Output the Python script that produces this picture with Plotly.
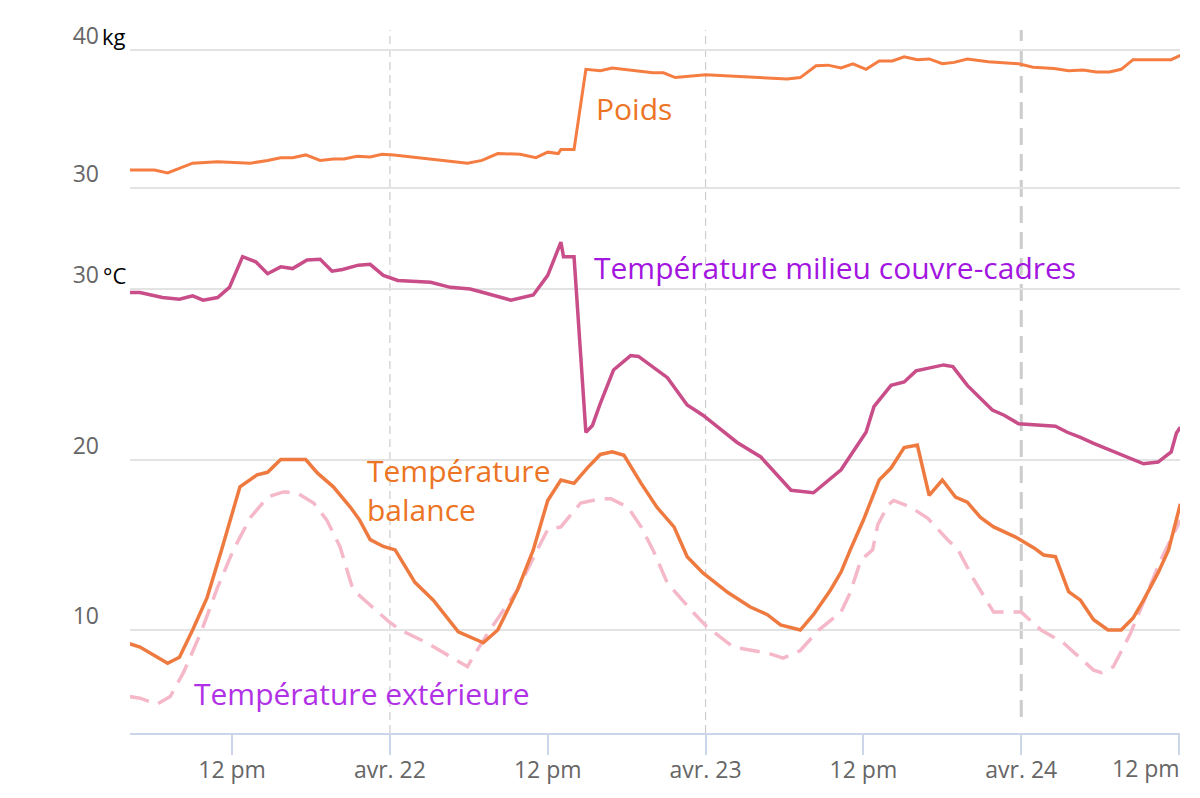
import pandas as pd
import plotly.graph_objects as go

# ---- data (hours since 2024-04-21 00:00) ----
START = pd.Timestamp("2024-04-21 00:00")

weight_h = [4.2, 6.1, 7.1, 9.0, 10.9, 13.4, 14.7, 15.7, 16.6, 17.6, 18.7, 19.7, 20.5, 21.5, 22.5, 23.4,
            24.3, 27.1, 29.9, 31.0, 32.2, 33.9, 35.1, 36.0, 36.8, 37.0, 38.0, 38.9, 40.0, 40.9, 42.5,
            44.0, 44.8, 45.7, 48.0, 50.1, 54.2, 55.2, 56.4, 57.3, 58.3, 59.2, 60.2, 61.2, 62.2, 63.1,
            64.1, 65.0, 66.0, 66.9, 67.9, 69.5, 70.7, 71.8, 72.9, 74.5, 75.6, 76.7, 77.7, 78.7, 79.6,
            80.5, 81.6, 83.4, 84.1]
weight_kg = [31.3, 31.3, 31.1, 31.8, 31.9, 31.8, 32.0, 32.2, 32.2, 32.4, 32.0, 32.1, 32.1, 32.3, 32.25, 32.45,
             32.4, 32.1, 31.8, 32.0, 32.5, 32.45, 32.2, 32.6, 32.5, 32.8, 32.8, 38.6, 38.5, 38.7, 38.5,
             38.35, 38.35, 38.0, 38.2, 38.1, 37.9, 38.0, 38.85, 38.9, 38.7, 39.0, 38.6, 39.2, 39.2, 39.5,
             39.3, 39.35, 39.0, 39.1, 39.35, 39.15, 39.05, 39.0, 38.75, 38.65, 38.5, 38.55, 38.4, 38.4, 38.6,
             39.3, 39.3, 39.3, 39.6]

hive_h = [4.2, 5.0, 6.7, 8.0, 9.0, 9.8, 10.9, 11.8, 12.8, 13.8, 14.7, 15.7, 16.6, 17.7, 18.7, 19.6,
          20.4, 21.6, 22.5, 23.5, 24.6, 27.1, 28.6, 30.1, 31.1, 33.2, 34.9, 36.0, 37.0, 37.2, 38.0,
          38.9, 39.4, 40.0, 41.0, 42.3, 42.9, 44.0, 45.1, 46.6, 47.8, 50.4, 52.2, 54.5, 55.2, 56.2,
          58.3, 60.2, 60.8, 62.1, 63.1, 64.0, 66.1, 66.8, 67.9, 69.8, 70.7, 71.8, 74.6, 75.5, 76.5,
          77.5, 81.3, 82.4, 83.4, 83.8, 84.1]
hive_c = [29.8, 29.8, 29.5, 29.4, 29.6, 29.35, 29.5, 30.1, 31.9, 31.6, 30.9, 31.3, 31.2, 31.7, 31.75, 31.05,
          31.15, 31.4, 31.45, 30.8, 30.5, 30.4, 30.1, 30.0, 29.8, 29.35, 29.65, 30.8, 32.75, 31.9, 31.9,
          21.6, 22.0, 23.3, 25.25, 26.1, 26.05, 25.45, 24.8, 23.2, 22.6, 21.0, 20.15, 18.2, 18.15, 18.05,
          19.4, 21.6, 23.1, 24.35, 24.55, 25.2, 25.55, 25.45, 24.35, 22.9, 22.6, 22.1, 21.95, 21.6, 21.3,
          20.95, 19.75, 19.85, 20.45, 21.55, 21.9]

scale_h = [4.2, 5.0, 7.1, 8.0, 9.0, 10.1, 11.2, 12.6, 13.9, 14.7, 15.7, 16.4, 17.6, 18.5, 19.7, 21.0,
           21.7, 22.5, 23.5, 24.4, 25.9, 27.3, 29.2, 31.1, 32.2, 33.7, 34.9, 36.0, 37.0, 38.0, 39.0,
           40.0, 40.9, 41.8, 43.1, 44.3, 45.6, 46.6, 47.8, 49.7, 51.4, 52.7, 53.7, 55.2, 56.2, 57.5,
           58.3, 59.0, 60.0, 61.2, 62.1, 63.1, 64.1, 65.0, 66.0, 67.0, 67.9, 68.9, 69.9, 71.7, 73.0,
           73.7, 74.6, 75.6, 76.5, 77.5, 78.6, 79.6, 80.5, 81.3, 82.4, 83.2, 84.1]
scale_c = [9.2, 9.0, 8.05, 8.4, 10.0, 11.9, 14.7, 18.4, 19.1, 19.25, 20.0, 20.0, 20.0, 19.2, 18.4, 17.2,
           16.45, 15.3, 14.9, 14.7, 12.8, 11.75, 9.9, 9.25, 10.0, 12.35, 14.7, 17.6, 18.8, 18.6, 19.5,
           20.3, 20.45, 20.25, 18.6, 17.2, 16.05, 14.3, 13.35, 12.2, 11.35, 10.9, 10.3, 10.0, 10.9, 12.35,
           13.4, 14.7, 16.45, 18.8, 19.5, 20.7, 20.85, 17.9, 18.8, 17.8, 17.5, 16.6, 16.05, 15.4, 14.8,
           14.4, 14.3, 12.25, 11.75, 10.6, 10.0, 10.0, 10.7, 11.75, 13.35, 14.7, 17.4]

outside_h = [4.2, 5.0, 6.3, 7.3, 8.3, 9.6, 10.9, 12.1, 13.4, 14.7, 15.9, 16.9, 18.2, 19.2, 20.2, 21.2,
             22.3, 23.9, 24.8, 26.8, 29.9, 30.3, 31.6, 33.7, 35.2, 36.0, 37.0, 38.5, 40.0, 40.8, 42.1,
             43.1, 44.0, 45.1, 47.1, 48.1, 50.1, 52.7, 53.9, 55.2, 56.6, 58.3, 59.0, 59.8, 60.7, 61.1,
             61.9, 62.3, 63.6, 64.9, 66.4, 67.2, 68.4, 69.9, 70.7, 72.0, 73.5, 75.2, 77.5, 78.1, 79.0,
             80.3, 81.6, 82.6, 84.1]
outside_c = [6.1, 6.0, 5.65, 6.1, 7.5, 9.8, 12.5, 14.7, 16.6, 17.8, 18.1, 18.05, 17.45, 16.45, 14.9, 12.35,
             11.6, 10.5, 10.0, 9.25, 7.85, 8.4, 10.0, 12.35, 14.7, 15.9, 16.05, 17.45, 17.7, 17.7, 17.2,
             16.05, 14.7, 12.75, 11.0, 10.2, 9.0, 8.65, 8.35, 8.8, 10.0, 11.05, 12.2, 14.1, 14.7, 16.2,
             17.35, 17.6, 17.2, 16.55, 15.3, 14.7, 12.95, 11.05, 11.05, 11.05, 10.0, 9.25, 7.65, 7.5, 7.85,
             9.8, 12.2, 14.1, 16.45]

x_tick_h = [12, 24, 36, 48, 60, 72, 84]
x_tick_text = ["12 pm", "avr. 22", "12 pm", "avr. 23", "12 pm", "avr. 24", "12 pm"]
day_line_h = [24, 48, 72]
temp_ticks = [10, 20, 30]
weight_ticks = [30, 40]
x_range_h = [4.24, 84.07]


def to_time(hours):
    return [START + pd.Timedelta(hours=h) for h in hours]


fig = go.Figure()

fig.add_trace(go.Scatter(x=to_time(weight_h), y=weight_kg, mode="lines", xaxis="x2", yaxis="y2",
                         line=dict(color="#F57D42", width=3), name="Poids"))
fig.add_trace(go.Scatter(x=to_time(outside_h), y=outside_c, mode="lines",
                         line=dict(color="#F5B8C9", width=3.5, dash="20px,10px"),
                         name="Température extérieure"))
fig.add_trace(go.Scatter(x=to_time(scale_h), y=scale_c, mode="lines",
                         line=dict(color="#EE7A40", width=3.5), name="Température balance"))
fig.add_trace(go.Scatter(x=to_time(hive_h), y=hive_c, mode="lines",
                         line=dict(color="#C84D88", width=3.5), name="Température milieu couvre-cadres"))

tick_font = dict(family="Open Sans", size=23, color="#666666")
PLOT_H = 713
split = (713 - 215) / PLOT_H  # boundary between the two panels

# last x label is right-aligned (as in the original), drawn separately
axis_ticktext = x_tick_text[:-1] + [""]

xr = to_time(x_range_h)
fig.update_layout(
    width=1192, height=790,
    margin=dict(l=122, r=20, t=12, b=65),
    paper_bgcolor="white", plot_bgcolor="white",
    showlegend=False,
    xaxis=dict(type="date", range=xr, anchor="y", domain=[0, 1],
               tickmode="array", tickvals=to_time(x_tick_h), ticktext=axis_ticktext,
               ticks="outside", ticklen=20, tickwidth=2, tickcolor="#ccd6eb",
               showline=True, linecolor="#ccd6eb", linewidth=2,
               showgrid=False, zeroline=False, tickfont=tick_font, ticklabelstandoff=-5),
    xaxis2=dict(type="date", range=xr, anchor="y2", domain=[0, 1], matches="x",
                showticklabels=False, showgrid=False, zeroline=False, showline=False),
    yaxis=dict(domain=[0, split], range=[3.96, 33.17], tickmode="array", tickvals=temp_ticks,
               ticktext=[str(v) for v in temp_ticks], showgrid=True, gridcolor="#e3e3e3", gridwidth=2,
               zeroline=False, showline=False, tickfont=tick_font,
               ticklabelshift=-14, ticklabelstandoff=30),
    yaxis2=dict(domain=[split, 1], range=[26.6, 42.17], tickmode="array", tickvals=weight_ticks,
                ticktext=[str(v) for v in weight_ticks], showgrid=True, gridcolor="#e3e3e3", gridwidth=2,
                zeroline=False, showline=False, tickfont=tick_font,
                ticklabelshift=-14, ticklabelstandoff=30),
)

fig.add_annotation(text=x_tick_text[-1], xref="x", yref="paper",
                   x=START + pd.Timedelta(hours=x_tick_h[-1]), y=0,
                   xanchor="right", yanchor="middle", xshift=3, yshift=-35, showarrow=False,
                   font=tick_font)

# vertical day separators
y_top = (713 - 10) / PLOT_H
for h in day_line_h:
    t = START + pd.Timedelta(hours=h)
    last = h == day_line_h[-1]
    fig.add_shape(type="line", xref="x", yref="paper", x0=t, x1=t,
                  y0=16 / PLOT_H if last else 0, y1=y_top,
                  line=dict(color="#cccccc", width=3 if last else 1.2,
                            dash="17px,9px" if last else "8px,5px"), layer="below")

# unit labels
fig.add_annotation(text="kg", xref="paper", yref="y2", x=0, y=40, xanchor="right", yanchor="middle",
                   xshift=-2, yshift=14, showarrow=False,
                   font=dict(family="Open Sans", size=22, color="#000000"))
fig.add_annotation(text="°C", xref="paper", yref="y", x=0, y=30, xanchor="right", yanchor="middle",
                   xshift=-2, yshift=14, showarrow=False,
                   font=dict(family="Open Sans", size=22, color="#000000"))

# series labels (positions in plot-area pixels)
lab_font = "Open Sans"
orange = "#EC7425"


def px(xp):
    return (xp - 130) / 1050


def py(yp):
    return (733 - yp) / PLOT_H


fig.add_annotation(text="Poids", xref="paper", yref="paper", x=px(594), y=py(108),
                   xanchor="left", yanchor="middle", showarrow=False,
                   font=dict(family=lab_font, size=30, color=orange))
fig.add_annotation(text="Température milieu couvre-cadres", xref="paper", yref="paper",
                   x=px(592), y=py(267),
                   xanchor="left", yanchor="middle", showarrow=False,
                   font=dict(family=lab_font, size=30, color="#A316E0"))
fig.add_annotation(text="Température<br>balance", xref="paper", yref="paper",
                   x=px(365), y=py(490), align="left",
                   xanchor="left", yanchor="middle", showarrow=False,
                   font=dict(family=lab_font, size=30, color=orange))
fig.add_annotation(text="Température extérieure", xref="paper", yref="paper",
                   x=px(192), y=py(693),
                   xanchor="left", yanchor="middle", showarrow=False,
                   font=dict(family=lab_font, size=30, color="#B132E6"))

fig.write_html("out.html")
